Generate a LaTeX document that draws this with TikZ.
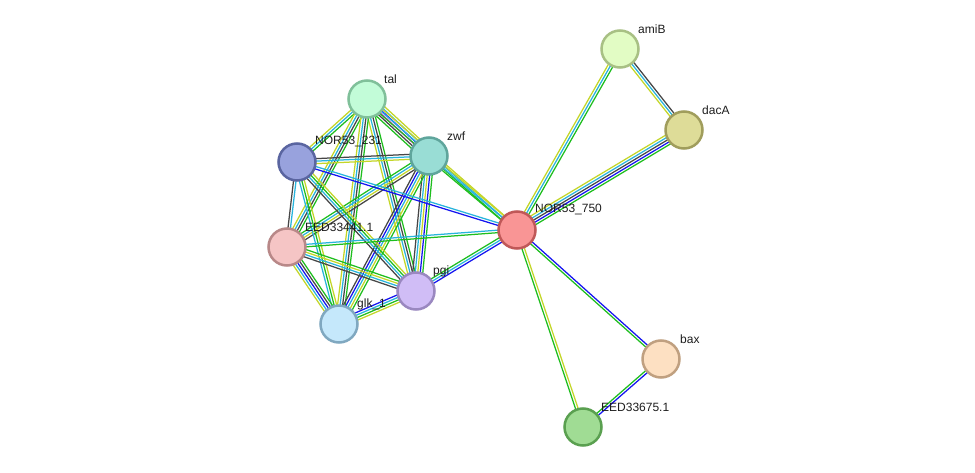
\documentclass[tikz,border=0pt]{standalone}
\usepackage{fontspec}
\setmainfont{Liberation Sans}
\usetikzlibrary{calc,backgrounds}
\definecolor{ecG}{RGB}{30,190,30}
\definecolor{ecB}{RGB}{20,20,240}
\definecolor{ecC}{RGB}{40,180,220}
\definecolor{ecK}{RGB}{70,70,70}
\definecolor{ecY}{RGB}{196,214,40}
\definecolor{ecM}{RGB}{230,30,230}
\definecolor{labc}{RGB}{30,30,30}
\tikzset{
  prot/.style={circle, minimum size=37pt, inner sep=0pt, line width=2.5pt},
  plab/.style={anchor=west, inner sep=0pt, text=labc, font=\fontsize{12}{14}\selectfont},
}
\newcommand\stredge[4]{%
  \foreach \cc [count=\ii] in {#4}{%
    \pgfmathsetmacro\oo{(\ii-1-(#3-1)/2)*2.5}%
    \pgfmathsetmacro\aa{\oo<0 ? -90 : 90}%
    \pgfmathsetmacro\ab{-\aa}%
    \pgfmathsetmacro\od{abs(\oo)}%
    \draw[line width=1.25pt, \cc] ($(#1)!\od pt!\aa:(#2)$) -- ($(#2)!\od pt!\ab:(#1)$);
  }}
\begin{document}
\begin{tikzpicture}[x=1pt,y=-1pt]
\useasboundingbox (0,0) rectangle (975,473);
% nodes
\node[prot, draw={rgb,255:red,128;green,192;blue,154}, fill={rgb,255:red,194;green,252;blue,216}] (tal) at (367,99) {};
\node[prot, draw={rgb,255:red,95;green,165;blue,156}, fill={rgb,255:red,153;green,221;blue,213}] (zwf) at (429,156) {};
\node[prot, draw={rgb,255:red,90;green,101;blue,160}, fill={rgb,255:red,152;green,162;blue,221}] (n231) at (297,162) {};
\node[prot, draw={rgb,255:red,184;green,136;blue,136}, fill={rgb,255:red,245;green,197;blue,197}] (e441) at (287,247) {};
\node[prot, draw={rgb,255:red,154;green,136;blue,192}, fill={rgb,255:red,208;green,189;blue,246}] (pgi) at (416,291) {};
\node[prot, draw={rgb,255:red,128;green,168;blue,192}, fill={rgb,255:red,197;green,232;blue,251}] (glk) at (339,324) {};
\node[prot, draw={rgb,255:red,192;green,88;blue,88}, fill={rgb,255:red,249;green,149;blue,149}] (n750) at (517,230) {};
\node[prot, draw={rgb,255:red,168;green,192;blue,132}, fill={rgb,255:red,226;green,252;blue,196}] (amiB) at (620,49) {};
\node[prot, draw={rgb,255:red,160;green,157;blue,92}, fill={rgb,255:red,222;green,220;blue,152}] (dacA) at (684,130) {};
\node[prot, draw={rgb,255:red,192;green,160;blue,128}, fill={rgb,255:red,253;green,224;blue,194}] (bax) at (661,359) {};
\node[prot, draw={rgb,255:red,90;green,160;blue,80}, fill={rgb,255:red,160;green,220;blue,148}] (e675) at (583,427) {};
% labels
\node[plab] (ltal) at (384,79) {tal};
\node[plab] (lzwf) at (447,136) {zwf};
\node[plab] (l231) at (315,142) {NOR53\_231};
\node[plab] (l441) at (305,227) {EED33441.1};
\node[plab] (lpgi) at (433,271) {pgi};
\node[plab] (lglk) at (357,304) {glk\_1};
\node[plab] (l750) at (535,210) {NOR53\_750};
\node[plab] (lami) at (638,29) {amiB};
\node[plab] (ldac) at (702,110) {dacA};
\node[plab] (lbax) at (680,339) {bax};
\node[plab] (l675) at (601,407) {EED33675.1};
\begin{pgfonlayer}{background}
\fill[white] (0,0) rectangle (975,473);
\stredge{tal}{zwf}{6}{ecG,ecK,ecM,ecB,ecC,ecY}
\stredge{tal}{n231}{3}{ecY,ecC,ecG}
\stredge{tal}{e441}{4}{ecY,ecC,ecK,ecG}
\stredge{tal}{pgi}{4}{ecY,ecC,ecK,ecG}
\stredge{tal}{glk}{4}{ecY,ecC,ecK,ecG}
\stredge{tal}{n750}{3}{ecG,ecC,ecY}
\stredge{zwf}{n231}{3}{ecK,ecC,ecY}
\stredge{zwf}{e441}{4}{ecG,ecC,ecY,ecK}
\stredge{zwf}{pgi}{5}{ecK,ecC,ecY,ecB,ecG}
\stredge{zwf}{glk}{5}{ecK,ecB,ecC,ecY,ecG}
\stredge{zwf}{n750}{3}{ecG,ecC,ecY}
\stredge{n231}{e441}{2}{ecK,ecC}
\stredge{n231}{pgi}{4}{ecK,ecC,ecG,ecY}
\stredge{n231}{glk}{3}{ecC,ecG,ecY}
\stredge{n231}{n750}{2}{ecB,ecC}
\stredge{e441}{pgi}{4}{ecK,ecC,ecY,ecG}
\stredge{e441}{glk}{5}{ecY,ecC,ecB,ecK,ecG}
\stredge{e441}{n750}{2}{ecG,ecC}
\stredge{pgi}{glk}{4}{ecB,ecC,ecG,ecY}
\stredge{pgi}{n750}{3}{ecB,ecC,ecG}
\stredge{amiB}{dacA}{3}{ecY,ecC,ecK}
\stredge{amiB}{n750}{3}{ecY,ecC,ecG}
\stredge{dacA}{n750}{5}{ecY,ecC,ecK,ecB,ecG}
\stredge{n750}{bax}{2}{ecG,ecB}
\stredge{n750}{e675}{2}{ecG,ecY}
\stredge{bax}{e675}{2}{ecG,ecB}
\end{pgfonlayer}
\end{tikzpicture}
\end{document}
